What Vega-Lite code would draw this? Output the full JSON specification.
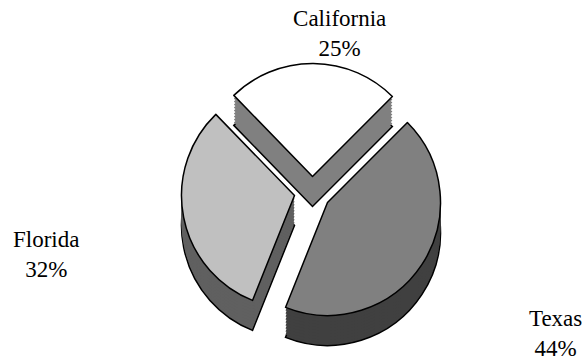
{
  "$schema": "https://vega.github.io/schema/vega-lite/v6.json",
  "width": 585,
  "height": 360,
  "autosize": {"type": "fit", "contains": "padding"},
  "padding": 0,
  "background": "white",
  "config": {"view": {"stroke": null}},
  "data": {
    "values": [
      {"state": "California", "share": 0.25},
      {"state": "Florida", "share": 0.32},
      {"state": "Texas", "share": 0.44}
    ]
  },
  "transform": [
    {"stack": "share", "groupby": [], "sort": [{"field": "state", "order": "ascending"}], "as": ["s0", "s1"]},
    {"calculate": "(datum.s0 + datum.s1) / 2", "as": "mid"},
    {"calculate": "[datum.state, format(datum.share, '.0%')]", "as": "label"}
  ],
  "layer": [
    {
      "transform": [{"filter": "datum.state === 'California'"}],
      "encoding": {
        "theta": {"field": "s0", "type": "quantitative", "scale": {"domain": [0, 1.01], "range": [0.785, -5.498]}},
        "theta2": {"field": "s1"}
      },
      "layer": [
        {"mark": {"type": "arc", "radius": 113, "fill": "#808080", "stroke": "#000", "strokeWidth": 1.5, "xOffset": 20, "yOffset": 28}},
        {"mark": {"type": "arc", "radius": 113, "fill": "#808080", "xOffset": 20, "yOffset": 25}},
        {"mark": {"type": "arc", "radius": 113, "fill": "#808080", "xOffset": 20, "yOffset": 22}},
        {"mark": {"type": "arc", "radius": 113, "fill": "#808080", "xOffset": 20, "yOffset": 19}},
        {"mark": {"type": "arc", "radius": 113, "fill": "#808080", "xOffset": 20, "yOffset": 16}},
        {"mark": {"type": "arc", "radius": 113, "fill": "#808080", "xOffset": 20, "yOffset": 13}},
        {"mark": {"type": "arc", "radius": 113, "fill": "#808080", "xOffset": 20, "yOffset": 10}},
        {"mark": {"type": "arc", "radius": 113, "fill": "#808080", "xOffset": 20, "yOffset": 7}},
        {"mark": {"type": "arc", "radius": 113, "fill": "#808080", "xOffset": 20, "yOffset": 4}},
        {"mark": {"type": "arc", "radius": 113, "fill": "#808080", "xOffset": 20, "yOffset": 1}},
        {"mark": {"type": "arc", "radius": 113, "fill": "#ffffff", "stroke": "#000", "strokeWidth": 1.5, "strokeJoin": "round", "xOffset": 20, "yOffset": -2}}
      ]
    },
    {
      "transform": [{"filter": "datum.state === 'Florida'"}],
      "encoding": {
        "theta": {"field": "s0", "type": "quantitative", "scale": {"domain": [0, 1.01], "range": [0.785, -5.498]}},
        "theta2": {"field": "s1"}
      },
      "layer": [
        {"mark": {"type": "arc", "radius": 113, "fill": "#606060", "stroke": "#000", "strokeWidth": 1.5, "xOffset": 2, "yOffset": 47}},
        {"mark": {"type": "arc", "radius": 113, "fill": "#606060", "xOffset": 2, "yOffset": 44}},
        {"mark": {"type": "arc", "radius": 113, "fill": "#606060", "xOffset": 2, "yOffset": 41}},
        {"mark": {"type": "arc", "radius": 113, "fill": "#606060", "xOffset": 2, "yOffset": 38}},
        {"mark": {"type": "arc", "radius": 113, "fill": "#606060", "xOffset": 2, "yOffset": 35}},
        {"mark": {"type": "arc", "radius": 113, "fill": "#606060", "xOffset": 2, "yOffset": 32}},
        {"mark": {"type": "arc", "radius": 113, "fill": "#606060", "xOffset": 2, "yOffset": 29}},
        {"mark": {"type": "arc", "radius": 113, "fill": "#606060", "xOffset": 2, "yOffset": 26}},
        {"mark": {"type": "arc", "radius": 113, "fill": "#606060", "xOffset": 2, "yOffset": 23}},
        {"mark": {"type": "arc", "radius": 113, "fill": "#606060", "xOffset": 2, "yOffset": 20}},
        {"mark": {"type": "arc", "radius": 113, "fill": "#c0c0c0", "stroke": "#000", "strokeWidth": 1.5, "strokeJoin": "round", "xOffset": 2, "yOffset": 17}}
      ]
    },
    {
      "transform": [{"filter": "datum.state === 'Texas'"}],
      "encoding": {
        "theta": {"field": "s0", "type": "quantitative", "scale": {"domain": [0, 1.01], "range": [0.785, -5.498]}},
        "theta2": {"field": "s1"}
      },
      "layer": [
        {"mark": {"type": "arc", "radius": 113, "fill": "#404040", "stroke": "#000", "strokeWidth": 1.5, "xOffset": 35, "yOffset": 54}},
        {"mark": {"type": "arc", "radius": 113, "fill": "#404040", "xOffset": 35, "yOffset": 51}},
        {"mark": {"type": "arc", "radius": 113, "fill": "#404040", "xOffset": 35, "yOffset": 48}},
        {"mark": {"type": "arc", "radius": 113, "fill": "#404040", "xOffset": 35, "yOffset": 45}},
        {"mark": {"type": "arc", "radius": 113, "fill": "#404040", "xOffset": 35, "yOffset": 42}},
        {"mark": {"type": "arc", "radius": 113, "fill": "#404040", "xOffset": 35, "yOffset": 39}},
        {"mark": {"type": "arc", "radius": 113, "fill": "#404040", "xOffset": 35, "yOffset": 36}},
        {"mark": {"type": "arc", "radius": 113, "fill": "#404040", "xOffset": 35, "yOffset": 33}},
        {"mark": {"type": "arc", "radius": 113, "fill": "#404040", "xOffset": 35, "yOffset": 30}},
        {"mark": {"type": "arc", "radius": 113, "fill": "#404040", "xOffset": 35, "yOffset": 27}},
        {"mark": {"type": "arc", "radius": 113, "fill": "#808080", "stroke": "#000", "strokeWidth": 1.5, "strokeJoin": "round", "xOffset": 35, "yOffset": 24}}
      ]
    },
    {
      "transform": [{"filter": "datum.state === 'California'"}],
      "mark": {"type": "text", "radius": 160, "font": "Liberation Serif", "fontSize": 23, "lineHeight": 30, "align": "center", "baseline": "alphabetic", "color": "#000", "xOffset": 46, "yOffset": 7},
      "encoding": {
        "theta": {"field": "mid", "type": "quantitative", "scale": {"domain": [0, 1.01], "range": [0.785, -5.498]}},
        "text": {"field": "label"}
      }
    },
    {
      "transform": [{"filter": "datum.state === 'Florida'"}],
      "mark": {"type": "text", "radius": 250, "font": "Liberation Serif", "fontSize": 23, "lineHeight": 30, "align": "center", "baseline": "alphabetic", "color": "#000", "xOffset": -1, "yOffset": 20},
      "encoding": {
        "theta": {"field": "mid", "type": "quantitative", "scale": {"domain": [0, 1.01], "range": [0.785, -5.498]}},
        "text": {"field": "label"}
      }
    },
    {
      "transform": [{"filter": "datum.state === 'Texas'"}],
      "mark": {"type": "text", "radius": 290, "font": "Liberation Serif", "fontSize": 23, "lineHeight": 30, "align": "center", "baseline": "alphabetic", "color": "#000", "xOffset": 21, "yOffset": -12},
      "encoding": {
        "theta": {"field": "mid", "type": "quantitative", "scale": {"domain": [0, 1.01], "range": [0.785, -5.498]}},
        "text": {"field": "label"}
      }
    }
  ]
}
